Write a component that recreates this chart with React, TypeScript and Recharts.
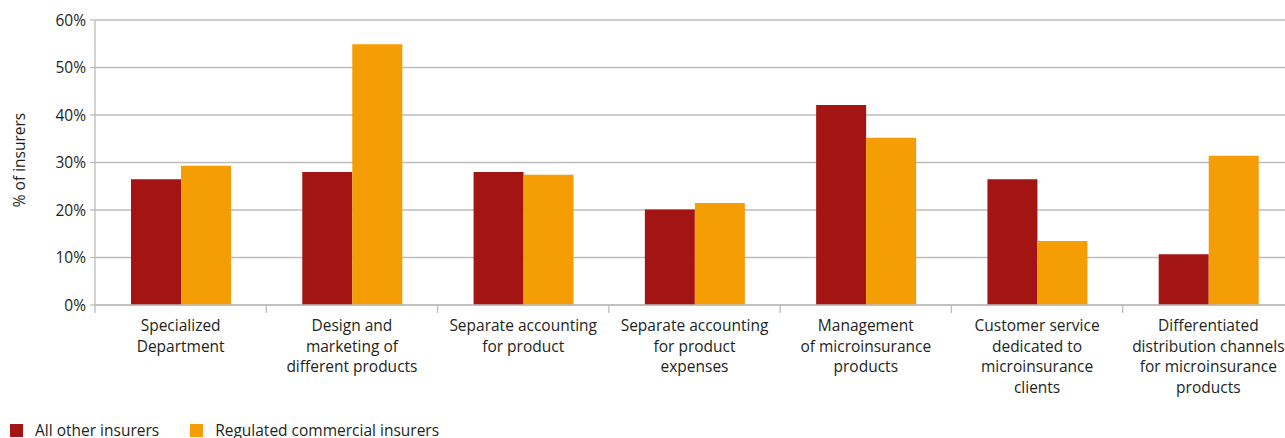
import React from 'react';
import { BarChart, Bar, XAxis, YAxis, CartesianGrid } from 'recharts';

const categories = [
  'Specialized\nDepartment',
  'Design and\nmarketing of\ndifferent products',
  'Separate accounting\nfor product',
  'Separate accounting\nfor product\nexpenses',
  'Management\nof microinsurance\nproducts',
  'Customer service\ndedicated to\nmicroinsurance\nclients',
  'Differentiated\ndistribution channels\nfor microinsurance\nproducts',
];

const allOtherInsurers = [26.5, 28.0, 28.0, 20.1, 42.1, 26.5, 10.7];
const regulatedCommercial = [29.3, 54.9, 27.4, 21.5, 35.2, 13.5, 31.4];

const yTicks = [0, 10, 20, 30, 40, 50, 60];

const series = [
  { key: 'other', name: 'All other insurers', color: '#A31512', values: allOtherInsurers },
  { key: 'regulated', name: 'Regulated commercial insurers', color: '#F49D05', values: regulatedCommercial },
];

const data = categories.map((name, i) => ({
  name,
  other: allOtherInsurers[i],
  regulated: regulatedCommercial[i],
}));

const FONT = '"Open Sans", Lato, sans-serif';
const FS = 15.5;
const TEXT = '#231f20';
const GRID = '#bcbcbc';

const CategoryTick = (props: any) => {
  const { x, y, payload } = props;
  const half = payload && payload.offset ? payload.offset : 85.6;
  const lines = String(payload.value).split('\n');
  return (
    <g>
      <line x1={x - half} y1={y} x2={x - half} y2={y + 8} stroke={GRID} strokeWidth={1.3} />
      <text x={x} y={y + 26} textAnchor="middle" fill={TEXT} fontSize={FS} fontFamily={FONT}>
        {lines.map((l, i) => (
          <tspan key={i} x={x} dy={i === 0 ? 0 : 20.5}>
            {l}
          </tspan>
        ))}
      </text>
    </g>
  );
};

const YLabel = () => (
  <text
    x={19}
    y={160}
    transform="rotate(-90 19 160)"
    textAnchor="middle"
    dominantBaseline="central"
    fill={TEXT}
    fontSize={FS}
    fontFamily={FONT}
  >
    % of insurers
  </text>
);

export default function App() {
  return (
    <div
      style={{
        position: 'absolute',
        left: 0,
        top: 0,
        width: 1285,
        height: 438,
        overflow: 'hidden',
        background: '#fff',
        fontFamily: FONT,
      }}
    >
      <BarChart
        width={1300}
        height={438}
        data={data}
        margin={{ top: 20, right: 6, left: 0, bottom: 0 }}
        barCategoryGap={36}
        barGap={0}
      >
        <CartesianGrid vertical={false} stroke={GRID} strokeWidth={1.3} />
        <XAxis
          dataKey="name"
          interval={0}
          height={133}
          tickLine={false}
          tickSize={0}
          tickMargin={0}
          axisLine={{ stroke: GRID, strokeWidth: 1.3 }}
          tick={<CategoryTick />}
        />
        <YAxis
          width={95}
          domain={[0, 60]}
          ticks={yTicks}
          interval={0}
          tickFormatter={(v) => `${v}%`}
          tickSize={5}
          tickMargin={4}
          axisLine={{ stroke: GRID, strokeWidth: 1.3 }}
          tickLine={{ stroke: GRID, strokeWidth: 1.3 }}
          tick={{ fill: TEXT, fontSize: FS, fontFamily: FONT }}
          label={<YLabel />}
        />
        {series.map((s) => (
          <Bar
            key={s.key}
            dataKey={s.key}
            name={s.name}
            fill={s.color}
            isAnimationActive={false}
          />
        ))}
      </BarChart>
      <div
        style={{
          position: 'absolute',
          left: 10,
          top: 423,
          display: 'flex',
          alignItems: 'center',
          fontSize: FS,
          color: TEXT,
          lineHeight: '15px',
          whiteSpace: 'nowrap',
        }}
      >
        {series.map((s) => (
          <div key={s.key} style={{ display: 'flex', alignItems: 'center', marginRight: 31 }}>
            <span style={{ display: 'inline-block', width: 13, height: 13, background: s.color, marginRight: 12 }} />
            <span>{s.name}</span>
          </div>
        ))}
      </div>
    </div>
  );
}
